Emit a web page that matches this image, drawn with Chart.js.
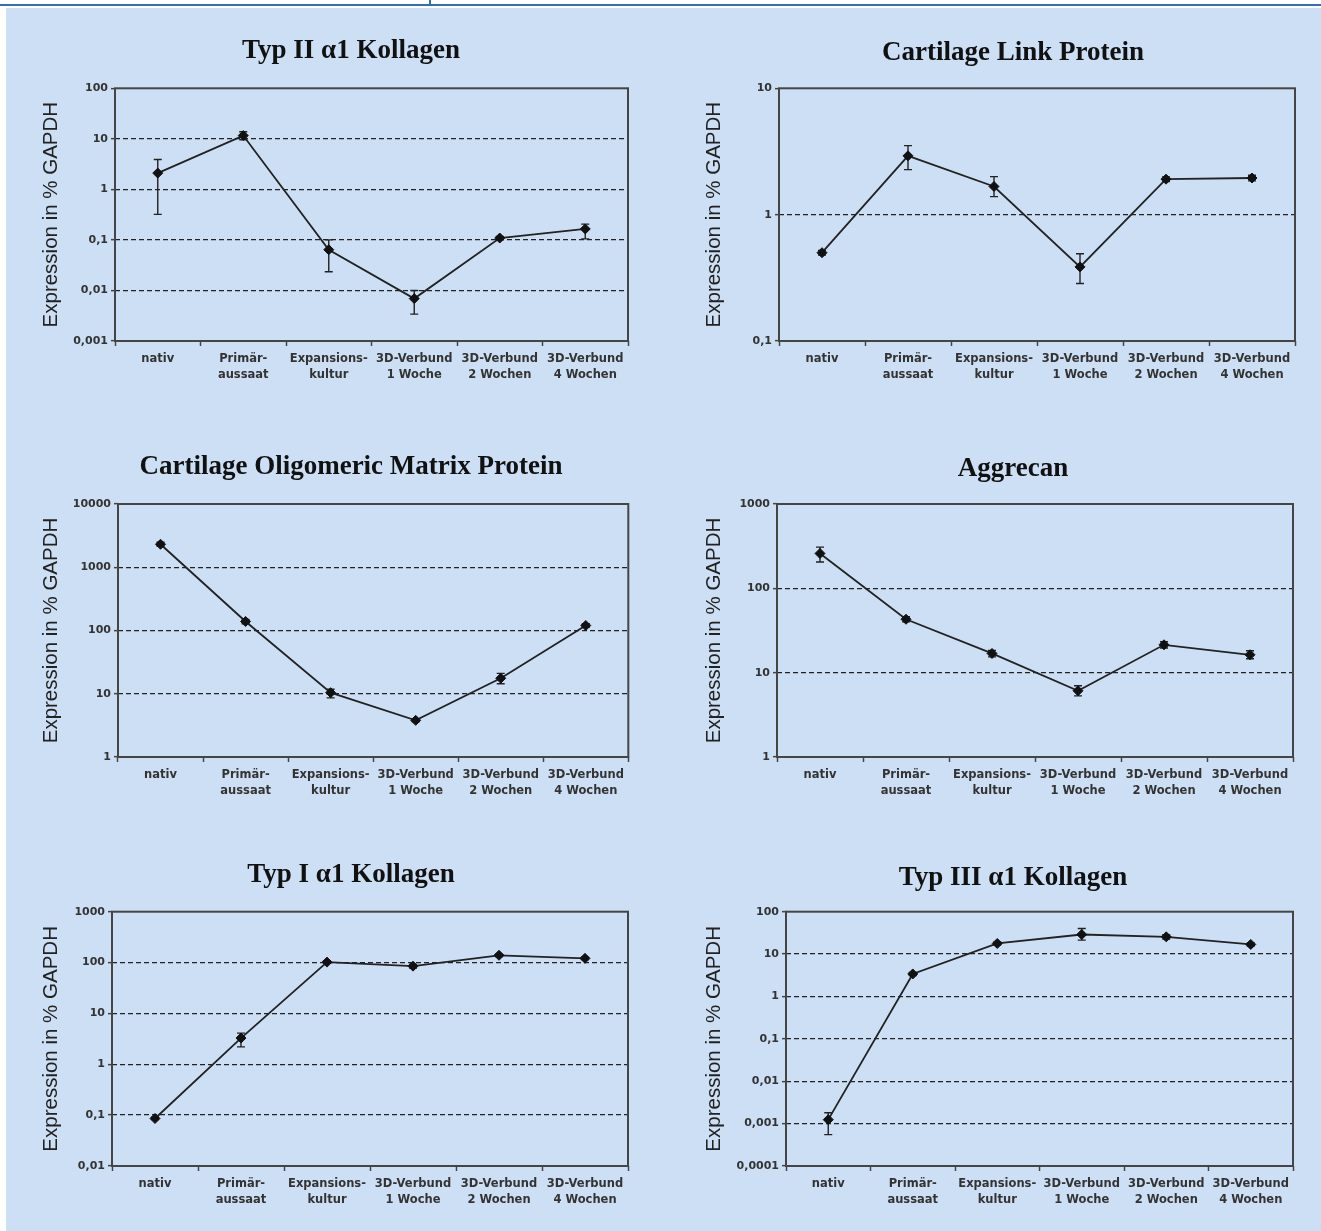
<!DOCTYPE html>
<html>
<head>
<meta charset="utf-8">
<script src="https://cdn.jsdelivr.net/npm/chart.js@4.4.0/dist/chart.umd.min.js"></script>
<style>
  html, body { margin: 0; padding: 0; background: #fff; overflow: hidden; width: 1321px; height: 1231px; }
  #panel { position: absolute; left: 6px; top: 8px; right: 0; bottom: 0; background: #cddff4; }
  #topline { position: absolute; left: 0; top: 4px; width: 1321px; height: 2px; background: #2f6fb7; }
  #vline { position: absolute; left: 429px; top: 0; width: 2px; height: 5px; background: #2f6fb7; }
  canvas { position: absolute; }
</style>
</head>
<body>
<div id="topline"></div>
<div id="vline"></div>
<div id="panel"></div>
<canvas id="c1"></canvas>
<canvas id="c2"></canvas>
<canvas id="c3"></canvas>
<canvas id="c4"></canvas>
<canvas id="c5"></canvas>
<canvas id="c6"></canvas>
<script>
// categories (x axis)
const categories = ['nativ', ['Primär-', 'aussaat'], ['Expansions-', 'kultur'],
    ['3D-Verbund', '1 Woche'], ['3D-Verbund', '2 Wochen'], ['3D-Verbund', '4 Wochen']];

// Typ II a1 Kollagen
const col2Values = [2.1, 11.6, 0.064, 0.0069, 0.109, 0.165];
const col2Low    = [0.32, 9.6, 0.0234, 0.0034, 0.101, 0.105];
const col2High   = [3.9, 13.8, 0.1, 0.0100, 0.117, 0.205];
const col2Ticks  = [0.001, 0.01, 0.1, 1, 10, 100];

// Cartilage Link Protein
const linkValues = [0.50, 2.92, 1.67, 0.386, 1.91, 1.95];
const linkLow    = [0.48, 2.27, 1.39, 0.285, 1.83, 1.85];
const linkHigh   = [0.52, 3.52, 2.0, 0.49, 1.99, 2.05];
const linkTicks  = [0.1, 1, 10];

// Cartilage Oligomeric Matrix Protein
const compValues = [2310, 139, 10.4, 3.8, 17.6, 120];
const compLow    = [2150, 128, 8.6, 3.6, 14.4, 112];
const compHigh   = [2480, 150, 11.8, 4.0, 21, 128];
const compTicks  = [1, 10, 100, 1000, 10000];

// Aggrecan
const aggValues = [259, 43, 16.9, 6.1, 21.4, 16.3];
const aggLow    = [205, 40, 15.4, 5.3, 19.6, 14.6];
const aggHigh   = [308, 46, 18.4, 7.0, 23.3, 18.2];
const aggTicks  = [1, 10, 100, 1000];

// Typ I a1 Kollagen
const col1Values = [0.086, 3.28, 102, 85, 139, 121];
const col1Low    = [0.082, 2.2, 97, 78, 132, 115];
const col1High   = [0.091, 4.1, 108, 92, 146, 127];
const col1Ticks  = [0.01, 0.1, 1, 10, 100, 1000];

// Typ III a1 Kollagen
const col3Values = [0.00124, 3.4, 17.8, 29, 25.5, 16.9];
const col3Low    = [0.00055, 3.1, 16.3, 21.3, 22.5, 15.4];
const col3High   = [0.0018, 3.7, 19.3, 40, 28.5, 18.4];
const col3Ticks  = [0.0001, 0.001, 0.01, 0.1, 1, 10, 100];

const ink = '#222';
const titleSize = 27;

// error bars + frame round the plot area
const errorBars = {
    id: 'errorBars',
    beforeDatasetsDraw(chart) {
        const ctx = chart.ctx;
        const yScale = chart.scales.y;
        const a = chart.chartArea;
        ctx.save();
        ctx.strokeStyle = '#454545';
        ctx.lineWidth = 2;
        ctx.strokeRect(a.left, a.top, a.right - a.left, a.bottom - a.top);
        ctx.strokeStyle = ink;
        ctx.lineWidth = 1.4;
        chart.data.datasets.forEach((ds, di) => {
            const meta = chart.getDatasetMeta(di);
            meta.data.forEach((pt, i) => {
                const y1 = yScale.getPixelForValue(ds.errLow[i]);
                const y2 = yScale.getPixelForValue(ds.errHigh[i]);
                ctx.beginPath();
                ctx.moveTo(pt.x, y1); ctx.lineTo(pt.x, y2);
                ctx.moveTo(pt.x - 4, y1); ctx.lineTo(pt.x + 4, y1);
                ctx.moveTo(pt.x - 4, y2); ctx.lineTo(pt.x + 4, y2);
                ctx.stroke();
            });
        });
        ctx.restore();
    }
};

function makeChart(id, title, values, low, high, ticks, box) {
    const canvas = document.getElementById(id);
    const H = box.plotBottom - box.top + 50;
    const half = titleSize * 1.2 / 2;
    canvas.width = box.width;
    canvas.height = H;
    canvas.style.left = box.left + 'px';
    canvas.style.top = box.top + 'px';

    return new Chart(canvas.getContext('2d'), {
        type: 'line',
        data: {
            labels: categories,
            datasets: [{
                data: values,
                errLow: low,
                errHigh: high,
                borderColor: ink,
                borderWidth: 1.8,
                tension: 0,
                pointStyle: 'rectRot',
                pointRadius: 5,
                pointBackgroundColor: '#111',
                pointBorderColor: '#111',
                pointBorderWidth: 1
            }]
        },
        options: {
            responsive: false,
            animation: false,
            layout: { padding: 0 },
            plugins: {
                legend: { display: false },
                tooltip: { enabled: false },
                title: {
                    display: true,
                    text: title,
                    color: '#111',
                    font: { family: 'Liberation Serif', size: titleSize, weight: 'bold', lineHeight: 1.2 },
                    padding: { top: box.titleY - box.top - half, bottom: box.plotTop - box.titleY - half }
                }
            },
            scales: {
                x: {
                    type: 'category',
                    offset: true,
                    afterFit: s => { s.height = 50; },
                    grid: { offset: true, drawOnChartArea: false, drawTicks: true, tickLength: 5, tickColor: '#444', tickWidth: 1.5 },
                    border: { display: false },
                    ticks: {
                        autoSkip: false, maxRotation: 0, padding: 5, color: '#333',
                        font: { family: 'DejaVu Sans', size: 11.5, weight: 'bold', lineHeight: 1.4 }
                    }
                },
                y: {
                    type: 'logarithmic',
                    min: ticks[0],
                    max: ticks[ticks.length - 1],
                    afterBuildTicks: s => { s.ticks = ticks.map(v => ({ value: v })); },
                    afterFit: s => { s.width = box.plotLeft - box.left; },
                    grid: {
                        color: c => (c.index > 0 && c.index < ticks.length - 1) ? ink : 'rgba(0,0,0,0)',
                        lineWidth: 1.3,
                        drawTicks: true, tickLength: 4, tickColor: '#444', tickWidth: 1.5
                    },
                    border: { display: false, dash: [5, 3] },
                    ticks: {
                        padding: 3, color: '#333',
                        font: { family: 'DejaVu Sans', size: 11, weight: 'bold' },
                        callback: v => String(v).replace('.', ',')
                    },
                    title: {
                        display: true,
                        text: 'Expression in % GAPDH',
                        color: ink,
                        font: { family: 'Liberation Sans', size: 20.5, lineHeight: 1.2 },
                        padding: { top: box.yTitleX - box.left - 12.3, bottom: 0 }
                    }
                },
                y2: {
                    type: 'linear',
                    position: 'right',
                    afterFit: s => { s.width = box.left + box.width - box.plotRight; },
                    grid: { display: false },
                    border: { display: false },
                    ticks: { display: false }
                }
            }
        },
        plugins: [errorBars]
    });
}

const leftCol = { left: 21, width: 660, yTitleX: 51 };
const rightCol = { left: 693, width: 640, yTitleX: 714 };

makeChart('c1', 'Typ II \u03b11 Kollagen', col2Values, col2Low, col2High, col2Ticks,
    Object.assign({ top: 12, titleY: 51, plotTop: 88.3, plotBottom: 341.7, plotLeft: 115, plotRight: 628 }, leftCol));
makeChart('c2', 'Cartilage Link Protein', linkValues, linkLow, linkHigh, linkTicks,
    Object.assign({ top: 12, titleY: 53, plotTop: 88.3, plotBottom: 341.7, plotLeft: 779, plotRight: 1295 }, rightCol));
makeChart('c3', 'Cartilage Oligomeric Matrix Protein', compValues, compLow, compHigh, compTicks,
    Object.assign({ top: 428, titleY: 467, plotTop: 504, plotBottom: 757.3, plotLeft: 118, plotRight: 628.3 }, leftCol));
makeChart('c4', 'Aggrecan', aggValues, aggLow, aggHigh, aggTicks,
    Object.assign({ top: 428, titleY: 469, plotTop: 504, plotBottom: 757.7, plotLeft: 777, plotRight: 1293 }, rightCol));
makeChart('c5', 'Typ I \u03b11 Kollagen', col1Values, col1Low, col1High, col1Ticks,
    Object.assign({ top: 836, titleY: 875, plotTop: 911.7, plotBottom: 1166.7, plotLeft: 112, plotRight: 628 }, leftCol));
makeChart('c6', 'Typ III \u03b11 Kollagen', col3Values, col3Low, col3High, col3Ticks,
    Object.assign({ top: 836, titleY: 878, plotTop: 911.7, plotBottom: 1166.7, plotLeft: 786, plotRight: 1293 }, rightCol));
</script>
</body>
</html>
